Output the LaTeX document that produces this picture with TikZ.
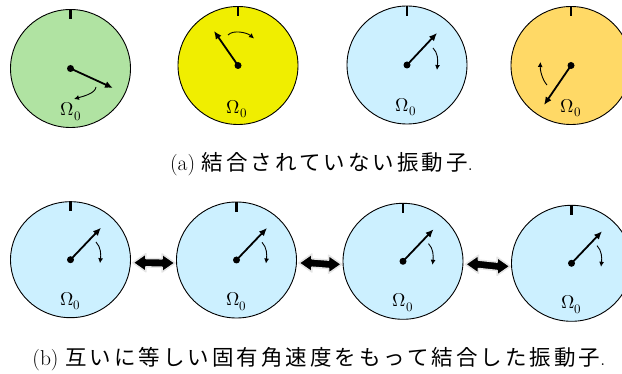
\documentclass[tikz,border=0pt]{standalone}
\usepackage{fontspec}
\usepackage{unicode-math}
\setmathfont{Latin Modern Math}
\newfontfamily\cjk[LetterSpace=14]{Noto Sans CJK JP}
\usetikzlibrary{arrows.meta,shapes.geometric,calc}
\definecolor{dgreen}{RGB}{176,227,162}
\definecolor{dyellow}{RGB}{240,238,0}
\definecolor{dblue}{RGB}{204,240,255}
\definecolor{dorange}{RGB}{255,217,102}
\newcommand\dblarr[2]{%
  \path ([xshift=2pt,yshift=-3pt]#1.east) coordinate (pA)
        ([xshift=-1pt,yshift=-3pt]#2.west) coordinate (pB);
  \draw[dblstyle] (pA) -- ($(pA)+(13,-9)$) -- ($(pA)+(13,-4.2)$) -- ($(pB)+(-13,-4.2)$)
    -- ($(pB)+(-13,-9)$) -- (pB) -- ($(pB)+(-13,9)$) -- ($(pB)+(-13,4.2)$)
    -- ($(pA)+(13,4.2)$) -- ($(pA)+(13,9)$) -- cycle;}
\begin{document}
\begin{tikzpicture}[x=1pt,y=-1pt,
  dial/.style={ellipse,draw=black,line width=0.9pt,minimum width=120pt,minimum height=118pt,inner sep=0pt},
  ticky/.style={line width=2.8pt},
  hub/.style={circle,fill=black,minimum size=7pt,inner sep=0pt},
  hand/.style={line width=1.8pt,-{Latex[length=8pt,width=7pt]}},
  rot/.style={line width=0.9pt,-{Latex[length=5pt,width=5pt]}},
  omega/.style={font=\fontsize{18.5}{20}\selectfont,inner sep=0pt},
  captext/.style={font=\fontsize{21.5}{26}\selectfont,inner sep=0pt},
  dblstyle/.style={fill=black,draw=gray!20,line width=1.5pt,line join=round}]
\clip (0,0) rectangle (622,374);
\fill[white] (0,0) rectangle (622,374);
% ---------- top row ----------
\node[dial,fill=dgreen] (a1) at (70.5,68.5) {};
\node[dial,fill=dyellow] (a2) at (238,65.5) {};
\node[dial,fill=dblue] (a3) at (407,65) {};
\node[dial,fill=dorange] (a4) at (571,65.5) {};
\foreach \n in {a1,a2,a3,a4}{\draw[ticky] (\n.north) -- ++(0,10);}
\node[hub] (ha1) at (a1.center) {};
\node[hub] (ha2) at (a2.center) {};
\node[hub] (ha3) at (a3.center) {};
\node[hub] (ha4) at (a4.center) {};
\begin{scope}[shift={(ha1.center)}]
  \draw[hand] (0,0) -- (42.5,19.5);
  \draw[rot] (25.5,18.5) .. controls (25,25) and (12,28) .. (3.5,30.5);
  \node[omega] (oa1) at (0.5,43) {$\Omega_0$};
\end{scope}
\begin{scope}[shift={(ha2.center)}]
  \draw[hand] (0,0) -- (-24,-34.5);
  \draw[rot] (-10,-30.5) .. controls (-5,-36) and (9,-33) .. (16,-27);
  \node[omega] (oa2) at (-1,43.5) {$\Omega_0$};
\end{scope}
\begin{scope}[shift={(ha3.center)}]
  \draw[hand] (0,0) -- (30,-32);
  \draw[rot] (26,-17) .. controls (31,-12) and (31,-5) .. (30,5);
  \node[omega] (oa3) at (-1,42) {$\Omega_0$};
\end{scope}
\begin{scope}[shift={(ha4.center)}]
  \draw[hand] (0,0) -- (-27,39.5);
  \draw[rot] (-24,19.5) .. controls (-29,14) and (-31,4) .. (-30.5,-3.5);
  \node[omega] (oa4) at (0,42.5) {$\Omega_0$};
\end{scope}
\node[captext] (capa) at (321.5,164) {(a) {\cjk 結合されていない振動子}.};
% ---------- bottom row ----------
\node[dial,fill=dblue,minimum height=116pt] (b1) at (70.5,259.7) {};
\node[dial,fill=dblue,minimum height=116pt] (b2) at (236.5,260) {};
\node[dial,fill=dblue,minimum height=116pt] (b3) at (403,261.3) {};
\node[dial,fill=dblue,minimum height=116pt] (b4) at (571.5,263.3) {};
\foreach \n in {b1,b2,b3,b4}{
  \draw[ticky] (\n.north) -- ++(0,10);
  \node[hub] (h\n) at (\n.center) {};
  \begin{scope}[shift={(h\n.center)}]
    \draw[hand] (0,0) -- (30.5,-32);
    \draw[rot] (25.5,-17.7) .. controls (30.5,-12.5) and (30.5,-5) .. (29.5,3.5);
    \node[omega] (o\n) at (0,41.5) {$\Omega_0$};
  \end{scope}
}
\dblarr{b1}{b2}
\dblarr{b2}{b3}
\dblarr{b3}{b4}
\node[captext] (capb) at (319,359) {(b) {\cjk 互いに等しい固有角速度をもって結合した振動子}.};
\end{tikzpicture}
\end{document}
